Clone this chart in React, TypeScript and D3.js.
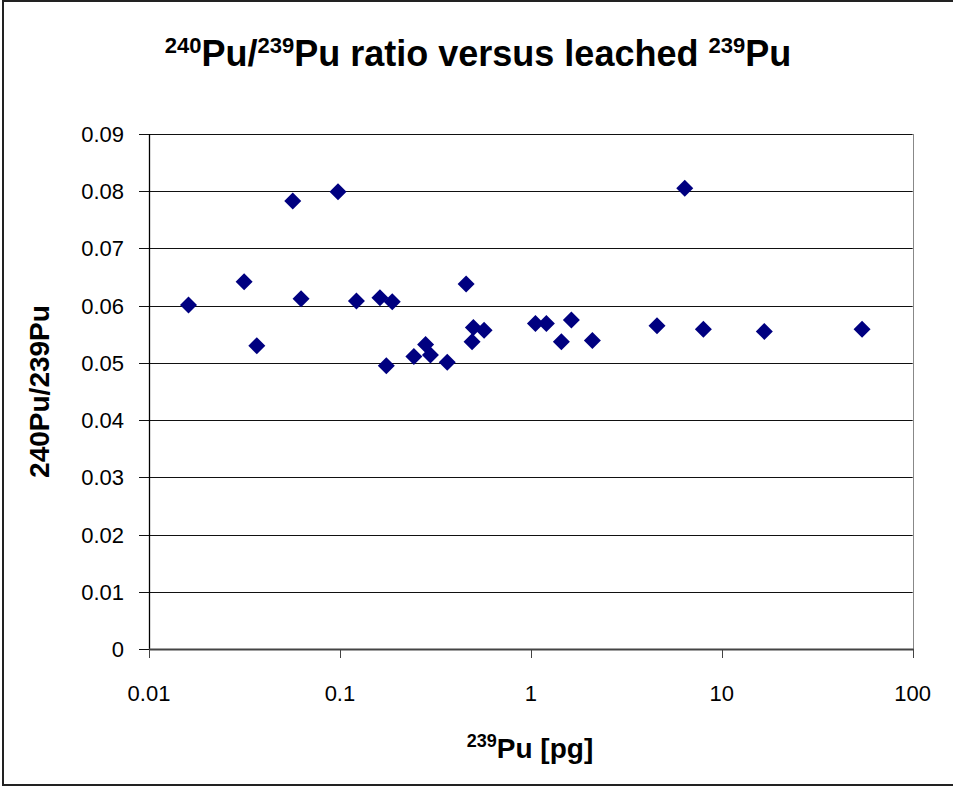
import React from "react";
import * as d3 from "d3";

const pu239 = [0.0161, 0.0315, 0.0367, 0.0566, 0.0626, 0.0977, 0.122, 0.162, 0.175, 0.188, 0.244, 0.281, 0.298, 0.365, 0.458, 0.492, 0.5, 0.569, 1.057, 1.206, 1.445, 1.63, 2.1, 4.58, 6.4, 8.01, 16.7, 54.3];
const ratio = [0.0601, 0.0642, 0.053, 0.0783, 0.0612, 0.0799, 0.0608, 0.0614, 0.0495, 0.0607, 0.0511, 0.0532, 0.0514, 0.0501, 0.0638, 0.0537, 0.0562, 0.0557, 0.0569, 0.0569, 0.0537, 0.0575, 0.0539, 0.0565, 0.0805, 0.0559, 0.0555, 0.0559];
const xTicks = [0.01, 0.1, 1, 10, 100];
const xTickLabels = ["0.01", "0.1", "1", "10", "100"];
const yTicks = [0, 0.01, 0.02, 0.03, 0.04, 0.05, 0.06, 0.07, 0.08, 0.09];
const yTickLabels = ["0", "0.01", "0.02", "0.03", "0.04", "0.05", "0.06", "0.07", "0.08", "0.09"];

const FONT = "'Liberation Sans', Arial, Helvetica, sans-serif";

export default function App() {
  const W = 953, H = 787;
  const left = 149, right = 912.7, top = 134, bottom = 649;
  const x = d3.scaleLog().domain([0.01, 100]).range([left, right]);
  const y = d3.scaleLinear().domain([0, 0.09]).range([bottom, top]);
  const r = 8.5;
  const diamond = (cx: number, cy: number) => `M${cx},${cy - r}L${cx + r},${cy}L${cx},${cy + r}L${cx - r},${cy}Z`;
  const data = pu239.map((v, i) => ({ x: v, y: ratio[i] }));
  const snap = (v: number) => Math.round(v) + 0.5;

  return (
    <svg width={W} height={H} style={{ position: "absolute", left: 0, top: 0, background: "#fff" }} fontFamily={FONT}>
      <rect x={0} y={0} width={W} height={H} fill="#fff" />
      <rect x={3} y={1} width={1000} height={784} fill="none" stroke="#222" strokeWidth={2} />
      {/* plot border right */}
      <line x1={snap(right)} x2={snap(right)} y1={top} y2={bottom} stroke="#888" strokeWidth={1} />
      {/* gridlines */}
      {yTicks.map((t, i) => (
        <g key={i}>
          {t > 0 && (
            <line x1={left} x2={right} y1={snap(y(t))} y2={snap(y(t))} stroke="#111" strokeWidth={1} />
          )}
          <line x1={left - 10} x2={left} y1={snap(y(t))} y2={snap(y(t))} stroke="#111" strokeWidth={1} />
          <text x={124} y={y(t) + 8} textAnchor="end" fontSize={22} fill="#000">{yTickLabels[i]}</text>
        </g>
      ))}
      {/* axes */}
      <line x1={snap(left)} x2={snap(left)} y1={top} y2={bottom} stroke="#000" strokeWidth={1.3} />
      <line x1={left} x2={right + 1} y1={snap(bottom)} y2={snap(bottom)} stroke="#444" strokeWidth={2} />
      {xTicks.map((t, i) => (
        <g key={i}>
          <line x1={snap(x(t))} x2={snap(x(t))} y1={bottom} y2={bottom + 9} stroke="#444" strokeWidth={1} />
          <text x={x(t)} y={701} textAnchor="middle" fontSize={22} fill="#000">{xTickLabels[i]}</text>
        </g>
      ))}
      {/* points */}
      {data.map((d, i) => (
        <path key={i} d={diamond(x(d.x), y(d.y))} fill="#000080" />
      ))}
      {/* title */}
      <text x={478} y={66} textAnchor="middle" fontSize={36} fontWeight="bold" fill="#000">
        <tspan fontSize={22} dy={-13}>240</tspan>
        <tspan dy={13}>Pu/</tspan>
        <tspan fontSize={22} dy={-13}>239</tspan>
        <tspan dy={13}>Pu ratio versus leached </tspan>
        <tspan fontSize={22} dy={-13}>239</tspan>
        <tspan dy={13}>Pu</tspan>
      </text>
      {/* y title */}
      <text transform={`translate(49,${(top + bottom) / 2}) rotate(-90)`} textAnchor="middle" fontSize={28} fontWeight="bold" fill="#000">240Pu/239Pu</text>
      {/* x title */}
      <text x={530} y={758} textAnchor="middle" fontSize={28} fontWeight="bold" fill="#000">
        <tspan fontSize={18} dy={-11}>239</tspan>
        <tspan dy={11}>Pu [pg]</tspan>
      </text>
    </svg>
  );
}
